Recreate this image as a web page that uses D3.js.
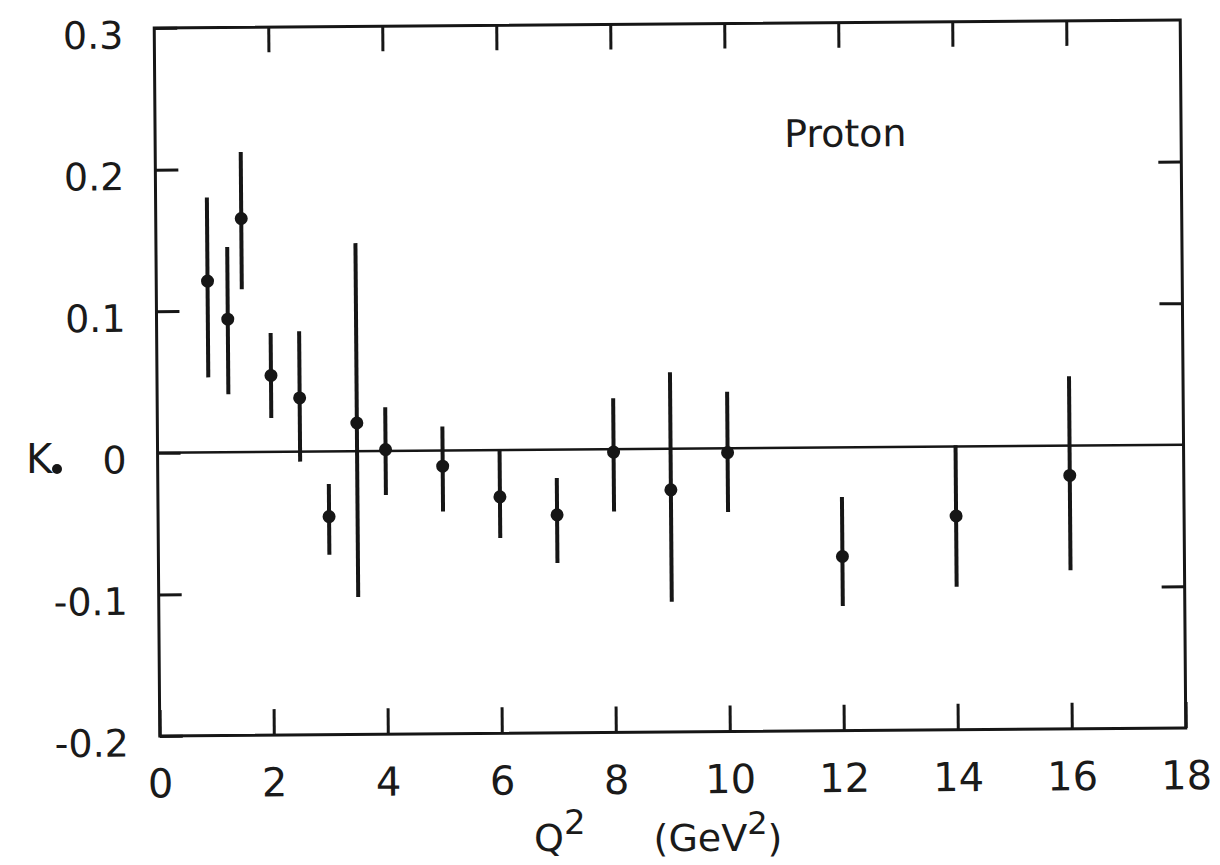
<!DOCTYPE html>
<html>
<head>
<meta charset="utf-8">
<script src="https://cdn.jsdelivr.net/npm/d3@7"></script>
<style>
  body { margin: 0; background: #fff; }
  text { font-family: "DejaVu Sans", sans-serif; fill: #1a1a1a; }
</style>
</head>
<body>
<div class="chart"></div>
<script>
// data (Q^2 in GeV^2, K with error bar ends)
var q2    = [0.9, 1.25, 1.5, 2, 2.5, 3, 3.5, 4, 5, 6, 7, 8, 9, 10, 12, 14, 16];
var kVal  = [0.121, 0.094, 0.165, 0.054, 0.038, -0.046, 0.020, 0.001, -0.011, -0.033, -0.046, -0.002, -0.029, -0.003, -0.077, -0.049, -0.021];
var kHigh = [0.180, 0.145, 0.212, 0.084, 0.085, -0.023, 0.147, 0.031, 0.017, 0.000, -0.020, 0.036, 0.054, 0.040, -0.035, 0.001, 0.049];
var kLow  = [0.053, 0.041, 0.115, 0.024, -0.007, -0.073, -0.103, -0.031, -0.043, -0.062, -0.080, -0.044, -0.108, -0.045, -0.112, -0.099, -0.088];

var xTicks = [0, 2, 4, 6, 8, 10, 12, 14, 16, 18];
var xInnerTicks = [2, 4, 6, 8, 10, 12, 14, 16];
var yTicks = [-0.2, -0.1, 0, 0.1, 0.2, 0.3];
var yInnerTicks = [-0.1, 0.1, 0.2];

var svgWidth = 1220;
var svgHeight = 865;
var margin = { top: 24, left: 157 };
var width = 1026;
var height = 708;
var ink = "#161616";

var svg = d3.select(".chart")
  .append("svg")
  .attr("width", svgWidth)
  .attr("height", svgHeight);

// the scanned figure sits slightly tilted
var tilted = svg.append("g")
  .attr("transform", `rotate(-0.45, ${margin.left + width / 2}, ${margin.top + height / 2})`);

var chartGroup = tilted.append("g")
  .attr("transform", `translate(${margin.left}, ${margin.top})`);

var x = d3.scaleLinear().domain([0, 18]).range([0, width]);
var y = d3.scaleLinear().domain([-0.2, 0.3]).range([height, 0]);

var fmtY = d => d === 0 ? "0" : d.toFixed(1);

// axes, ticks pointing inward
var bottomAxis = d3.axisBottom(x).tickValues(xTicks).tickSizeInner(-26).tickSizeOuter(0).tickPadding(33);
var topAxis = d3.axisTop(x).tickValues(xInnerTicks).tickSizeInner(-25).tickSizeOuter(0).tickFormat("");
var leftAxis = d3.axisLeft(y).tickValues(yTicks).tickSizeInner(-23).tickSizeOuter(0).tickPadding(31).tickFormat(fmtY);
var rightAxis = d3.axisRight(y).tickValues(yInnerTicks).tickSizeInner(-23).tickSizeOuter(0).tickFormat("");

var gx = chartGroup.append("g").attr("transform", `translate(0, ${height})`).call(bottomAxis);
var gt = chartGroup.append("g").call(topAxis);
var gy = chartGroup.append("g").call(leftAxis);
var gr = chartGroup.append("g").attr("transform", `translate(${width}, 0)`).call(rightAxis);

[gx, gt, gy, gr].forEach(function(g) {
  g.select(".domain").remove();
  g.selectAll("line").attr("stroke", ink).attr("stroke-width", 3);
  g.selectAll("text").attr("fill", ink);
});
gx.selectAll("text").style("font-size", "40px");
gy.selectAll("text").style("font-size", "38px").attr("dy", "0.52em");

// frame
chartGroup.append("rect")
  .attr("x", 0).attr("y", 0)
  .attr("width", width).attr("height", height)
  .attr("fill", "none")
  .attr("stroke", ink)
  .attr("stroke-width", 3);

// zero line
chartGroup.append("line")
  .attr("x1", x(0)).attr("x2", x(18))
  .attr("y1", y(0)).attr("y2", y(0))
  .attr("stroke", ink)
  .attr("stroke-width", 2.5);

var points = q2.map((q, i) => ({ q: q, k: kVal[i], hi: kHigh[i], lo: kLow[i] }));

// error bars
chartGroup.selectAll(".err")
  .data(points)
  .enter()
  .append("line")
  .attr("class", "err")
  .attr("x1", d => x(d.q)).attr("x2", d => x(d.q))
  .attr("y1", d => y(d.hi)).attr("y2", d => y(d.lo))
  .attr("stroke", ink)
  .attr("stroke-width", 4);

// points
chartGroup.selectAll(".pt")
  .data(points)
  .enter()
  .append("circle")
  .attr("class", "pt")
  .attr("cx", d => x(d.q))
  .attr("cy", d => y(d.k))
  .attr("r", 6.5)
  .attr("fill", ink);

chartGroup.append("text")
  .attr("x", 629)
  .attr("y", 124)
  .style("font-size", "38px")
  .text("Proton");

// y label "K." on the left
svg.append("text")
  .attr("x", 26)
  .attr("y", 473)
  .style("font-size", "40px")
  .text("K");
svg.append("circle")
  .attr("cx", 57).attr("cy", 469)
  .attr("r", 5)
  .attr("fill", ink);

// x axis title
var title = svg.append("text")
  .attr("x", 534)
  .attr("y", 851)
  .style("font-size", "38px");
title.append("tspan").text("Q");
title.append("tspan").attr("dy", -17).style("font-size", "34px").text("2");
title.append("tspan").attr("dy", 17).attr("dx", 68).text("(GeV");
title.append("tspan").attr("dy", -17).style("font-size", "32px").text("2");
title.append("tspan").attr("dy", 17).text(")");
</script>
</body>
</html>
